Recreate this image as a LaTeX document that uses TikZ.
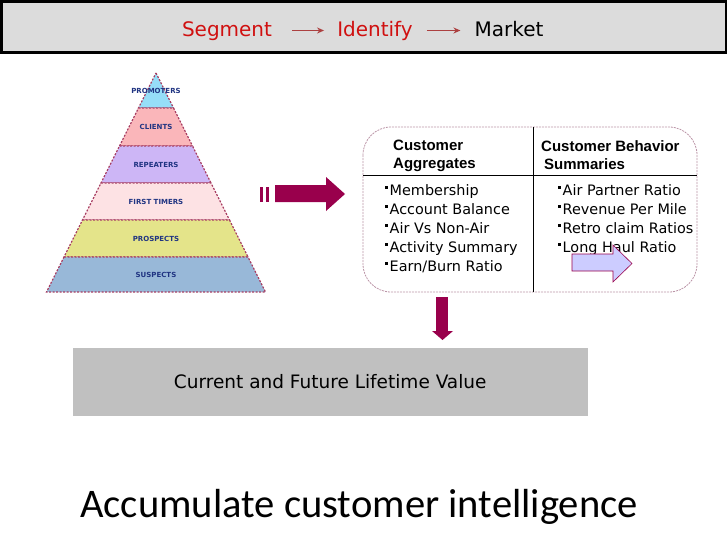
\documentclass[tikz,border=0pt]{standalone}
\usepackage{fontspec}
\setmainfont{DejaVu Sans}
\newfontfamily\calibrifont{Carlito}
\newfontfamily\arialfont{Liberation Sans}
\usetikzlibrary{arrows.meta,calc,positioning}
\definecolor{bannergray}{RGB}{220,220,220}
\definecolor{segred}{RGB}{208,16,16}
\definecolor{arrowbrown}{RGB}{172,64,64}
\definecolor{plum}{RGB}{153,0,76}
\definecolor{lavender}{RGB}{204,204,255}
\definecolor{edgepink}{RGB}{168,64,100}
\definecolor{boxedge}{RGB}{188,150,168}
\definecolor{valuegray}{RGB}{192,192,192}
\definecolor{labelblue}{RGB}{32,52,130}
\definecolor{promcol}{RGB}{150,222,248}
\definecolor{clientcol}{RGB}{250,182,186}
\definecolor{repcol}{RGB}{205,182,246}
\definecolor{firstcol}{RGB}{253,226,228}
\definecolor{prospcol}{RGB}{228,228,138}
\definecolor{suspcol}{RGB}{152,184,216}
\newcommand{\bul}{\rule[7pt]{3pt}{3pt}\hspace{1.5pt}}
\tikzset{
  bannertext/.style={anchor=base, font=\fontsize{20}{24}\selectfont, text height=15pt, text depth=4pt, inner sep=0pt},
  tierlabel/.style={font=\fontsize{7}{8}\selectfont\bfseries, text=labelblue, inner sep=0pt},
  listtext/.style={anchor=north west, align=left, inner sep=0pt, font=\fontsize{14.4}{19}\selectfont},
  headtext/.style={anchor=north west, align=left, inner sep=0pt, font=\arialfont\bfseries\fontsize{15}{18}\selectfont},
}

\begin{document}
\begin{tikzpicture}[x=1pt,y=-1pt]
  \useasboundingbox (0,0) rectangle (728,546);

  % banner:
  \draw [line width=2.5pt, fill=bannergray] (1.25,1.25) rectangle (726,52.5);
  \node [bannertext, text=segred] (seg) at (227,36) {Segment};
  \node [bannertext, text=segred] (idf) at (375,36) {Identify};
  \node [bannertext] (mkt) at (509,36) {Market};
  \draw [arrowbrown, line width=1.3pt, -{Stealth[length=7pt,width=6pt]}, shorten <=20pt, shorten >=13pt] (seg) -- (idf);
  \draw [arrowbrown, line width=1.3pt, -{Stealth[length=7pt,width=6pt]}, shorten <=14pt, shorten >=14pt] (idf) -- (mkt);

  % pyramid:
  \foreach \ytop/\ybot/\col/\lab/\nm in {73/108/promcol/PROMOTERS/prom, 108/146/clientcol/CLIENTS/clnt, 146/183/repcol/REPEATERS/rept, 183/220/firstcol/FIRST TIMERS/frst, 220/257/prospcol/PROSPECTS/prsp, 257/292/suspcol/SUSPECTS/susp} {
    \draw [edgepink, line width=1.2pt, dash pattern=on 2pt off 1.5pt, fill=\col] ({156-(\ytop-73)/2},\ytop) -- ({156+(\ytop-73)/2},\ytop) -- ({156+(\ybot-73)/2},\ybot) -- ({156-(\ybot-73)/2},\ybot) -- cycle;
    \node [tierlabel] (\nm) at (156,{(\ytop+\ybot)/2}) {\lab};
  }

  % block arrow to the table
  \fill [plum] (260,187) rectangle (263,202);
  \fill [plum] (266,187) rectangle (269,202);
  \fill [plum] (275,185) -- (326,185) -- (326,177) -- (345,194) -- (326,211) -- (326,202) -- (275,202) -- cycle;

  % table:
  \draw [boxedge, line width=0.8pt, dash pattern=on 2pt off 1pt, rounded corners=28pt] (363,127) rectangle (697,292);
  \draw [line width=0.8pt] (533,127) -- (533,292);
  \draw [line width=0.8pt] (363,175) -- (697,175);
  \node [headtext] (aggr) at (393,140) {Customer\\Aggregates};
  \node [headtext] (behv) at (541,140) {Customer Behavior\\\hspace{3pt}Summaries};
  \node [listtext] (aggrlist) at (385,184.4) {\bul Membership\\\bul Account Balance\\\bul Air Vs Non-Air\\\bul Activity Summary\\\bul Earn/Burn Ratio};
  \node [listtext] (behvlist) at (558,184.6) {\bul Air Partner Ratio\\\bul Revenue Per Mile\\\bul Retro claim Ratios\\\bul Long Haul Ratio};
  \draw [plum, line width=0.6pt, fill=lavender] (572,254) -- (613,254) -- (613,245) -- (632,263.5) -- (613,282) -- (613,271) -- (572,271) -- cycle;

  % down arrow
  \fill [plum] (436,297) rectangle (448,331);
  \fill [plum] (432,331) -- (453,331) -- (442.5,340) -- cycle;

  \node [fill=valuegray, minimum width=514.5pt, minimum height=68pt, inner sep=0pt, font=\fontsize{18.5}{22}\selectfont] (value) at (330.25,381.8) {Current and Future Lifetime Value};

  \node [anchor=base west, inner sep=0pt, font=\calibrifont\fontsize{40.6}{48}\selectfont] (title) at (80,517) {Accumulate customer intelligence};
\end{tikzpicture}
\end{document}
